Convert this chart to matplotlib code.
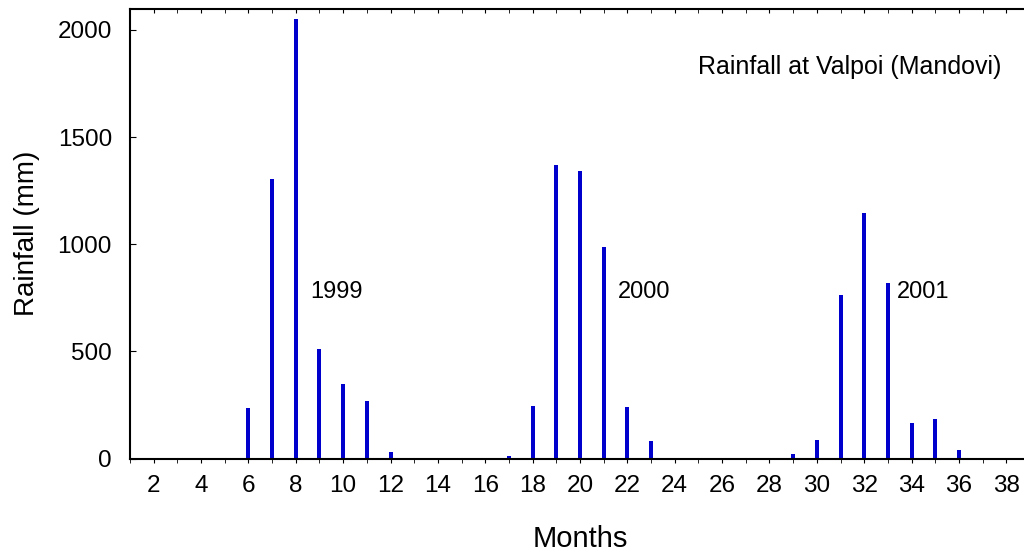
import numpy as np
import matplotlib
matplotlib.use('Agg')
from matplotlib import pyplot as plt

plt.rcParams['font.family'] = ['Liberation Sans', 'DejaVu Sans']

# monthly rainfall, months 1..38 (Jan 1999 = 1)
months = list(range(1, 39))
rainfall = [0, 0, 0, 0, 0, 234, 1306, 2050, 509, 350, 268, 29,
            0, 0, 0, 0, 12, 245, 1368, 1340, 985, 239, 83, 0,
            0, 0, 0, 0, 21, 85, 762, 1148, 821, 164, 186, 38,
            0, 0]
year_labels = ['1999', '2000', '2001']
year_label_x = [8.6, 21.6, 33.4]
year_label_y = [776, 776, 776]

fig = plt.figure(figsize=(10.24, 5.53), dpi=100)
ax = fig.add_axes([130/1024, 94.5/553, 900/1024, 449.5/553])

ax.bar(months, rainfall, width=0.17, color='#0000cc', edgecolor='none')

for lab, x, y in zip(year_labels, year_label_x, year_label_y):
    ax.text(x, y, lab, fontsize=17, va='center', ha='left')

ax.text(0.631, 0.871, 'Rainfall at Valpoi (Mandovi)', transform=ax.transAxes,
        fontsize=18, ha='left', va='center')

ax.set_xlim(1, 39)
ax.set_ylim(0, 2098)
ax.set_xticks(range(2, 39, 2))
ax.set_xticks(range(1, 39), minor=True)
ax.set_yticks([0, 500, 1000, 1500, 2000])

ax.spines['right'].set_visible(False)
for s in ['left', 'top', 'bottom']:
    ax.spines[s].set_linewidth(1.5)

ax.tick_params(axis='x', which='both', direction='out', top=False, labelsize=17.5, pad=9, length=3)
ax.tick_params(axis='y', direction='in', labelsize=17.5, pad=13, length=4)

ax2 = ax.secondary_xaxis('top')
ax2.set_xticks(range(2, 39, 2))
ax2.set_xticks(range(1, 39), minor=True)
ax2.tick_params(which='both', direction='in', length=3, labeltop=False)
ax2.spines['top'].set_visible(False)

ax.set_xlabel('Months', fontsize=21, labelpad=20)
ax.set_ylabel('Rainfall (mm)', fontsize=20, labelpad=13)

fig.savefig('out.png', dpi=100)
